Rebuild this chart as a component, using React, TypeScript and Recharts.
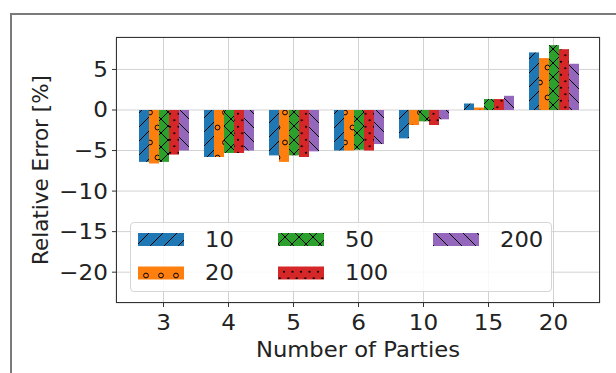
import React from 'react';
import { BarChart, Bar, XAxis, YAxis, CartesianGrid } from 'recharts';

const categories = ['3', '4', '5', '6', '10', '15', '20'];
const err10 = [-6.4, -5.8, -5.6, -5.0, -3.5, 0.8, 7.1];
const err20 = [-6.6, -5.8, -6.4, -5.0, -1.85, 0.3, 6.4];
const err50 = [-6.4, -5.3, -5.6, -4.9, -1.4, 1.35, 8.0];
const err100 = [-5.5, -5.3, -5.8, -5.0, -1.85, 1.35, 7.5];
const err200 = [-5.0, -5.0, -5.1, -4.2, -1.15, 1.75, 5.7];
const yTicks = [5, 0, -5, -10, -15, -20];

const series = [
  { key: 's10', name: '10', values: err10, pat: 'hatch10' },
  { key: 's20', name: '20', values: err20, pat: 'hatch20' },
  { key: 's50', name: '50', values: err50, pat: 'hatch50' },
  { key: 's100', name: '100', values: err100, pat: 'hatch100' },
  { key: 's200', name: '200', values: err200, pat: 'hatch200' },
];

const data = categories.map((c, i) => {
  const row: any = { parties: c };
  series.forEach((s) => {
    row[s.key] = s.values[i];
  });
  return row;
});

const FONT = 'DejaVu Sans';
const TXT = '#222';
const FS = 21;
// the source picture is slightly stretched sideways
const SX = 1.1;

const fmt = (v: number) => (v < 0 ? '\u2212' + Math.abs(v) : String(v));

// matplotlib-like hatches, shared by bars and legend
const Patterns = () => (
  <svg width={0} height={0} style={{ position: 'absolute' }}>
    <defs>
      <pattern id="hatch10" patternUnits="userSpaceOnUse" width={14} height={14}>
        <rect width={14} height={14} fill="#1f77b4" />
        <path d="M-3.5,3.5 L3.5,-3.5 M0,14 L14,0 M10.5,17.5 L17.5,10.5" stroke="#000" strokeWidth={1} />
      </pattern>
      <pattern id="hatch20" patternUnits="userSpaceOnUse" width={15} height={30}>
        <rect width={15} height={30} fill="#ff7f0e" />
        <circle cx={7.5} cy={7.5} r={2.4} fill="none" stroke="#000" strokeWidth={1} />
        <circle cx={0} cy={22.5} r={2.4} fill="none" stroke="#000" strokeWidth={1} />
        <circle cx={15} cy={22.5} r={2.4} fill="none" stroke="#000" strokeWidth={1} />
      </pattern>
      <pattern id="hatch50" patternUnits="userSpaceOnUse" width={14} height={14}>
        <rect width={14} height={14} fill="#2ca02c" />
        <path
          d="M-3.5,3.5 L3.5,-3.5 M0,14 L14,0 M10.5,17.5 L17.5,10.5 M-3.5,10.5 L3.5,17.5 M0,0 L14,14 M10.5,-3.5 L17.5,3.5"
          stroke="#000"
          strokeWidth={1}
        />
      </pattern>
      <pattern id="hatch100" patternUnits="userSpaceOnUse" width={8.5} height={13}>
        <rect width={8.5} height={13} fill="#d62728" />
        <circle cx={4.25} cy={3.25} r={1.1} fill="#000" />
        <circle cx={0} cy={9.75} r={1.1} fill="#000" />
        <circle cx={8.5} cy={9.75} r={1.1} fill="#000" />
      </pattern>
      <pattern id="hatch200" patternUnits="userSpaceOnUse" width={14} height={14}>
        <rect width={14} height={14} fill="#9467bd" />
        <path d="M-3.5,10.5 L3.5,17.5 M0,0 L14,14 M10.5,-3.5 L17.5,3.5" stroke="#000" strokeWidth={1} />
      </pattern>
    </defs>
  </svg>
);

const XTick = (props: any) => {
  const { x, y, payload } = props;
  return (
    <g transform={`translate(${x} ${y}) scale(${SX} 1)`}>
      <text x={0} y={0} dy="0.71em" textAnchor="middle" fontSize={FS} fontFamily={FONT} fill={TXT}>
        {payload.value}
      </text>
    </g>
  );
};

const YTick = (props: any) => {
  const { x, y, payload } = props;
  return (
    <g transform={`translate(${x} ${y}) scale(${SX} 1)`}>
      <text x={0} y={0} dy="0.355em" textAnchor="end" fontSize={FS} fontFamily={FONT} fill={TXT}>
        {fmt(payload.value)}
      </text>
    </g>
  );
};

// legend is column-major, 3 columns like matplotlib ncol=3
const legendCols = [[0, 1], [2, 3], [4]];

const Legend = () => (
  <div
    style={{
      position: 'absolute',
      left: 130,
      top: 222,
      width: 422,
      height: 70,
      boxSizing: 'border-box',
      border: '1px solid #d6d6d6',
      borderRadius: 4,
      background: 'rgba(255,255,255,0.85)',
    }}
  >
    <svg width={420} height={68} style={{ position: 'absolute', left: 0, top: 0 }}>
      {legendCols.map((col, ci) =>
        col.map((si, ri) => {
          const s = series[si];
          const px = [7, 147, 302][ci];
          const cy = ri === 0 ? 16.5 : 50;
          return (
            <g key={s.key}>
              <rect x={px} y={cy - 6.5} width={46} height={13} fill={`url(#${s.pat})`} />
              <g transform={`translate(${px + 67} ${cy}) scale(1.08 1)`}>
                <text x={0} y={0} dy="0.355em" fontSize={FS} fontFamily={FONT} fill={TXT}>
                  {s.name}
                </text>
              </g>
            </g>
          );
        })
      )}
    </svg>
  </div>
);

export default function App() {
  return (
    <div
      style={{
        position: 'absolute',
        left: 0,
        top: 0,
        width: 616,
        height: 373,
        overflow: 'hidden',
        background: '#fff',
      }}
    >
      <Patterns />
      <div
        style={{
          position: 'absolute',
          left: 10,
          top: 13,
          width: 700,
          height: 500,
          border: '2px solid #7a7a7a',
        }}
      />
      <div style={{ position: 'absolute', left: 0, top: 0 }}>
        <BarChart
          width={616}
          height={373}
          data={data}
          margin={{ top: 37, right: 16, bottom: 20, left: 0 }}
          barCategoryGap={8}
          barGap={0}
        >
          <CartesianGrid stroke="#d2d2d2" strokeWidth={1} />
          <XAxis
            dataKey="parties"
            height={50}
            padding={{ left: 15, right: 14 }}
            axisLine={false}
            tickSize={4}
            tickMargin={8}
            tickLine={{ stroke: '#333' }}
            tick={<XTick />}
            interval={0}
          />
          <YAxis
            width={116}
            domain={[-23.8, 9]}
            ticks={yTicks}
            allowDataOverflow
            axisLine={false}
            tickSize={4}
            tickMargin={4}
            tickLine={{ stroke: '#333' }}
            tick={<YTick />}
          />
          {series.map((s) => (
            <Bar
              key={s.key}
              dataKey={s.key}
              name={s.name}
              fill={`url(#${s.pat})`}
              isAnimationActive={false}
            />
          ))}
        </BarChart>
      </div>
      <svg
        width={616}
        height={373}
        style={{ position: 'absolute', left: 0, top: 0, pointerEvents: 'none' }}
      >
        <rect x={116.5} y={37.5} width={483} height={265} fill="none" stroke="#333" strokeWidth={1} />
        <g transform={`translate(358 350) scale(1.08 1)`}>
          <text x={0} y={0} dy="0.355em" textAnchor="middle" fontSize={FS} fontFamily={FONT} fill={TXT}>
            Number of Parties
          </text>
        </g>
        <text
          x={40}
          y={170}
          dy="0.355em"
          textAnchor="middle"
          fontSize={21.5}
          fontFamily={FONT}
          fill={TXT}
          transform="rotate(-90 40 170)"
        >
          Relative Error [%]
        </text>
      </svg>
      <Legend />
    </div>
  );
}
